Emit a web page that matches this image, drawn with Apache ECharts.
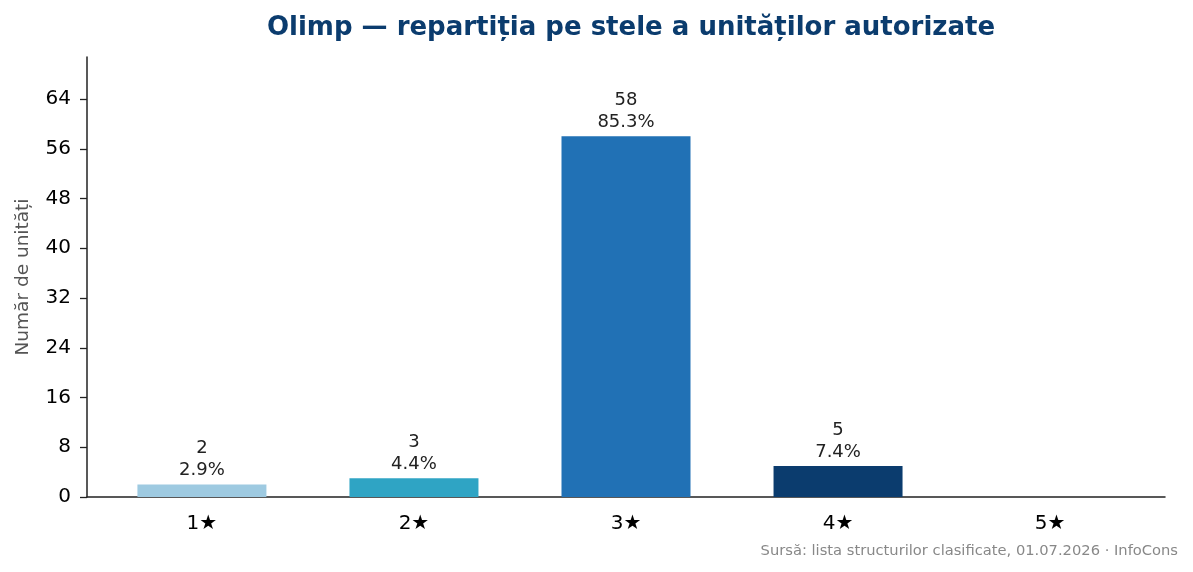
<!DOCTYPE html>
<html>
<head>
<meta charset="utf-8">
<script src="https://cdn.jsdelivr.net/npm/echarts@6/dist/echarts.min.js"></script>
<style>
  html, body { margin: 0; padding: 0; background: #fff; }
  #chart { width: 1193px; height: 572px; }
</style>
</head>
<body>
<div id="chart"></div>
<script>
// date
var categories = ['1★', '2★', '3★', '4★', '5★'];
var counts = [2, 3, 58, 5, 0];
var barColors = ['#9ecae1', '#2fa4c4', '#2171b5', '#0b3c6e', '#08306b'];
var yTicks = [0, 8, 16, 24, 32, 40, 48, 56, 64];
var catPositions = [0, 1, 2, 3, 4];

var total = counts.reduce(function (a, b) { return a + b; }, 0);

var chart = echarts.init(document.getElementById('chart'));
chart.setOption({
    animation: false,
    textStyle: { fontFamily: 'DejaVu Sans' },
    title: [{
        text: 'Olimp — repartiția pe stele a unităților autorizate',
        left: 626,
        textAlign: 'center',
        top: 10,
        textStyle: { color: '#0b3c6e', fontSize: 26, fontWeight: 'bold', fontFamily: 'DejaVu Sans' }
    }, {
        text: 'Sursă: lista structurilor clasificate, 01.07.2026 · InfoCons',
        right: 10,
        top: 539,
        textStyle: { color: '#888', fontSize: 14.7, fontWeight: 'normal', fontFamily: 'DejaVu Sans' }
    }],
    grid: { left: 87, right: 28, top: 57, bottom: 75 },
    xAxis: {
        type: 'value',
        min: -0.542,
        max: 4.542,
        axisLine: { show: true, onZero: false, lineStyle: { color: '#222', width: 1.5 } },
        axisTick: { show: false },
        splitLine: { show: false },
        axisLabel: {
            color: '#000', fontSize: 20, margin: 17,
            customValues: catPositions,
            formatter: function (v) { return categories[Math.round(v)]; }
        }
    },
    yAxis: {
        type: 'value',
        min: 0,
        max: 58 * 1.22,
        interval: 8,
        name: 'Număr de unități',
        nameLocation: 'middle',
        nameGap: 54,
        nameTextStyle: { color: '#555', fontSize: 18.5 },
        axisLine: { show: true, onZero: false, lineStyle: { color: '#222', width: 1.5 } },
        axisTick: { show: true, length: 7, customValues: yTicks, lineStyle: { color: '#222', width: 1.3 } },
        axisLabel: { color: '#000', fontSize: 20, margin: 16, padding: [4, 0, 0, 0], customValues: yTicks },
        splitLine: { show: false }
    },
    series: [{
        type: 'bar',
        barWidth: 129,
        data: counts.map(function (v, i) {
            return { value: [catPositions[i], v], itemStyle: { color: barColors[i] } };
        }),
        label: {
            show: true,
            position: 'top',
            distance: 3,
            color: '#222',
            fontSize: 18,
            lineHeight: 22,
            align: 'center',
            formatter: function (p) {
                var v = p.value[1];
                if (!v) return '';
                return v + '\n' + (v / total * 100).toFixed(1) + '%';
            }
        }
    }]
});
</script>
</body>
</html>
